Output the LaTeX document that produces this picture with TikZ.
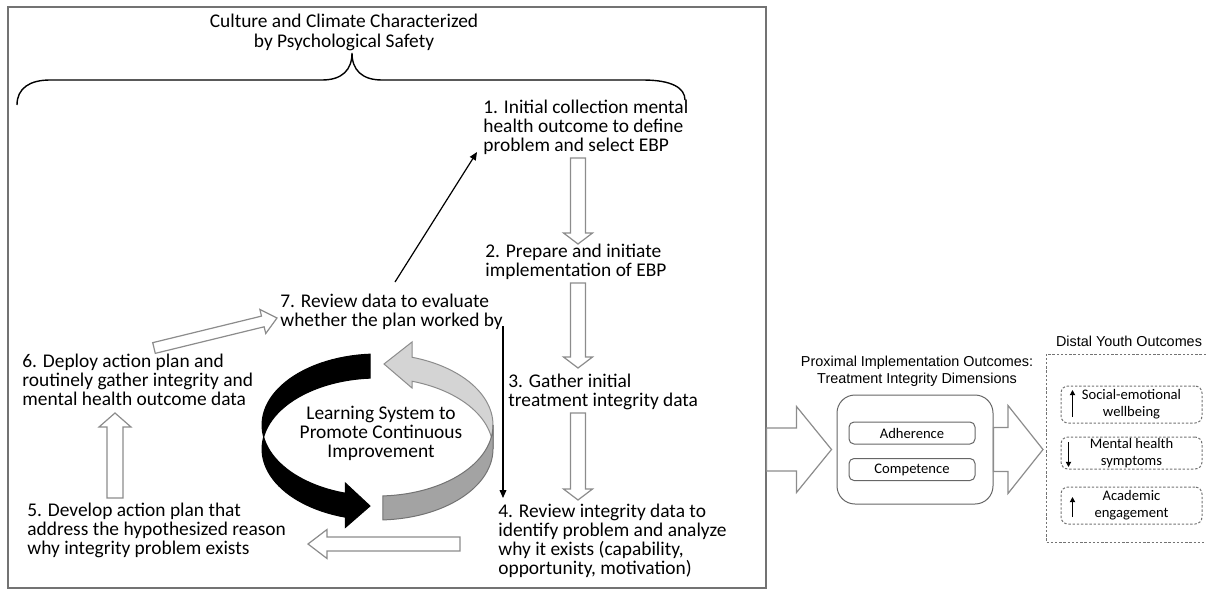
\documentclass[tikz,border=0pt]{standalone}
\usepackage{fontspec}
\usetikzlibrary{arrows.meta,calc}
\newfontfamily\calfont{Carlito}
\newfontfamily\arialfont{Liberation Sans}
\newcommand{\stepfont}{\calfont\fontsize{9.7pt}{9.6pt}\selectfont}
\newcommand{\labfont}{\arialfont\fontsize{7.2pt}{8.5pt}\selectfont}
\newcommand{\boxfont}{\calfont\fontsize{7.3pt}{8.6pt}\selectfont}
% hollow block arrow: tail, tip, shaft half width, head half width, head length
\newcommand{\hollowarrow}[5]{%
  \coordinate (hb) at ($(#2)!#5!(#1)$);
  \draw[blockarrow] ($(#1)!#3!90:(#2)$) -- ($(hb)!#3!-90:(#1)$) -- ($(hb)!#4!-90:(#1)$) -- (#2)
    -- ($(hb)!#4!90:(#1)$) -- ($(hb)!#3!90:(#1)$) -- ($(#1)!#3!-90:(#2)$) -- cycle;
}
\tikzset{
  steptext/.style={font=\stepfont, align=left, anchor=base west, inner sep=0pt},
  blockarrow/.style={draw=black!45, fill=white, line width=0.6pt, line join=miter},
  thinarrow/.style={->, line width=0.6pt},
  framebox/.style={draw=black!55, line width=0.6pt},
  dimbox/.style={draw=black!60, rounded corners=2.5pt, line width=0.5pt, minimum width=63pt, minimum height=11pt, inner sep=0pt, font=\boxfont},
  outbox/.style={draw=black!55, line width=0.5pt, dash pattern=on 1.2pt off 0.9pt},
  outcome/.style={outbox, rounded corners=3.5pt, minimum width=70.5pt, inner sep=0pt, align=center, font=\boxfont}
}

\begin{document}
\begin{tikzpicture}[x=0.5pt, y=-0.5pt, >={Triangle[length=4pt,width=3.4pt]}]
  \useasboundingbox (0,0) rectangle (1206,590);
  % frame round the learning system
  \node[framebox, minimum width=379pt, minimum height=290.5pt] (frame) at (387,297.5) {};
  % (base of a multi-line node = baseline of its last line)
  \node[font=\stepfont, align=center, anchor=base, inner sep=0pt] (title) at (344,47) {Culture and Climate Characterized\\by Psychological Safety};
  \draw[line width=0.7pt] (17,105) .. controls (17,88) and (30,80) .. (50,80) -- (322,80)
    .. controls (342,80) and (352,70) .. (352,53) .. controls (352,70) and (362,80) .. (382,80)
    -- (643,80) .. controls (672,80) and (685,88) .. (685,100);

  % steps
  \foreach \n/\x/\y/\txt in {
      s1/483/151.4/{1. Initial collection mental\\health outcome to define\\problem and select EBP},
      s2/485/276.2/{2. Prepare and initiate\\implementation of EBP},
      s3/508/406.2/{3. Gather initial\\treatment integrity data},
      s4/498/574.6/{4. Review integrity data to\\identify problem and analyze\\why it exists (capability,\\opportunity, motivation)},
      s5/27/554.4/{5. Develop action plan that\\address the hypothesized reason\\why integrity problem exists},
      s6/22/405.4/{6. Deploy action plan and\\routinely gather integrity and\\mental health outcome data},
      s7/280/326.2/{7. Review data to evaluate\\whether the plan worked by}} {
    \node[steptext] (\n) at (\x,\y) {\txt};
  }

  % block arrows between steps
  \foreach \n/\x/\y in {a12t/578/158, a12h/578/244, a23t/578/283, a23h/578/368, a34t/578/413, a34h/578/500,
      a45t/460/544, a45h/308/544, a56t/115/498, a56h/115/413, a67t/154/348, a67h/277/318} {
    \coordinate (\n) at (\x,\y);
  }
  \hollowarrow{a12t}{a12h}{3.75pt}{7.25pt}{5.5pt}
  \hollowarrow{a23t}{a23h}{3.75pt}{7.25pt}{5.5pt}
  \hollowarrow{a34t}{a34h}{3.75pt}{7.25pt}{5.5pt}
  \hollowarrow{a45t}{a45h}{3.5pt}{7.25pt}{9.5pt}
  \hollowarrow{a56t}{a56h}{4pt}{8pt}{7pt}
  \hollowarrow{a67t}{a67h}{2.75pt}{6.2pt}{7.3pt}

  % thin arrows from step 7
  \coordinate (t71) at (395,282);
  \coordinate (h71) at (477,152);
  \coordinate (t74) at (503,326);
  \coordinate (h74) at (503,498);
  \draw[thinarrow] (t71) -- (h71);
  \draw[thinarrow] (t74) -- (h74);

  % ribbon of the learning cycle
  \filldraw[fill=black!17, draw=black!45, line width=0.5pt]
    plot[domain=0:72.6, samples=30] ({377.5+115.5*cos(\x)}, {425-71*sin(\x)})
    -- (412,342) -- (384,364) -- (412,388)
    -- plot[domain=72.6:0, samples=30] ({377.5+115.5*cos(\x)}, {449-71*sin(\x)}) -- cycle;
  \filldraw[fill=black!36, draw=black!55, line width=0.5pt]
    plot[domain=0:-87.3, samples=30] ({377.5+115.5*cos(\x)}, {425-71*sin(\x)})
    -- plot[domain=-87.3:0, samples=30] ({377.5+115.5*cos(\x)}, {449-71*sin(\x)}) -- cycle;
  \filldraw[fill=black, draw=black, line width=0.5pt]
    plot[domain=93.7:253.8, samples=50] ({377.5+115.5*cos(\x)}, {425-71*sin(\x)})
    -- (345.3,483) -- (370,506) -- (345.3,527.5)
    -- plot[domain=253.8:93.7, samples=50] ({377.5+115.5*cos(\x)}, {449-71*sin(\x)}) -- cycle;
  \node[font=\stepfont, align=center, anchor=base, inner sep=0pt] (cycle) at (381,457.4) {Learning System to\\Promote Continuous\\Improvement};

  % proximal outcomes
  \node[font=\labfont, align=center, anchor=base, inner sep=0pt] (proxlab) at (917,383) {Proximal Implementation Outcomes:\\Treatment Integrity Dimensions};
  \node[draw=black!60, line width=0.5pt, rounded corners=9pt, minimum width=78pt, minimum height=54.5pt] (prox) at (915,449.5) {};
  \node[dimbox] (adh) at (912,433) {Adherence};
  \node[dimbox] (comp) at (912,469.5) {Competence};
  \hollowarrow{frame.east |- prox.west}{[xshift=-2.5pt]prox.west}{10.75pt}{21.5pt}{17.5pt}

  % distal outcomes
  \node[font=\labfont, anchor=base, inner sep=0pt] (distlab) at (1129,346) {Distal Youth Outcomes};
  \coordinate (dnw) at (1046,354);
  \coordinate (dsw) at (1046,542);
  \draw[outbox] (1206,354) -- (dnw) -- (dsw) -- (1206,542);
  \hollowarrow{prox.east}{1043,449.5}{11pt}{22pt}{17.5pt}
  \node[outcome, minimum height=18.5pt] (o1) at (1131.5,404.5) {Social-emotional\\wellbeing};
  \node[outcome, minimum height=16pt] (o2) at (1131.5,453) {Mental health\\symptoms};
  \node[outcome, minimum height=18.5pt] (o3) at (1131.5,505.5) {Academic\\engagement};
  \draw[-{Triangle[length=2.6pt,width=2.6pt]}, line width=0.7pt] ([xshift=6pt,yshift=-6.25pt]o1.west) -- ([xshift=6pt,yshift=7.25pt]o1.west);
  \draw[-{Triangle[length=2.6pt,width=2.6pt]}, line width=0.7pt] ([xshift=4pt,yshift=5.5pt]o2.west) -- ([xshift=4pt,yshift=-7pt]o2.west);
  \draw[-{Triangle[length=2.6pt,width=2.6pt]}, line width=0.7pt] ([xshift=6pt,yshift=-5.75pt]o3.west) -- ([xshift=6pt,yshift=4.25pt]o3.west);
\end{tikzpicture}
\end{document}
